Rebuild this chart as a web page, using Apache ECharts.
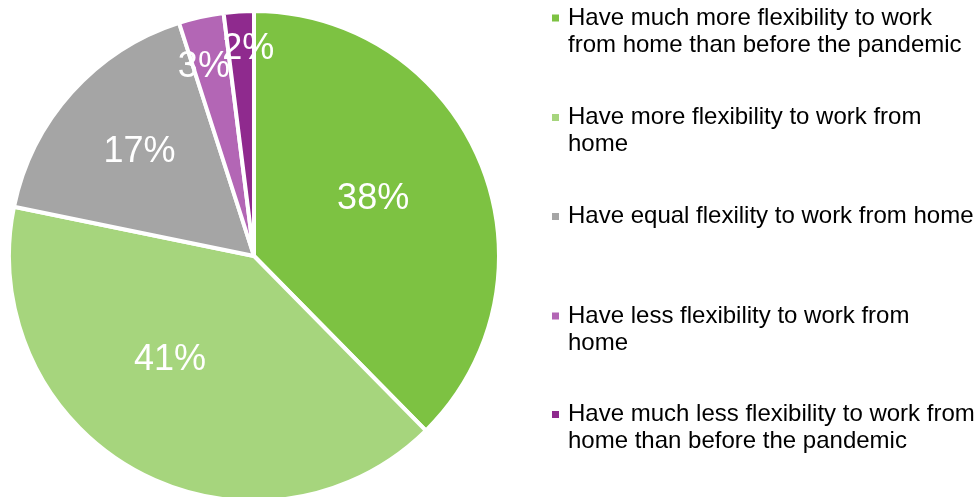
<!DOCTYPE html>
<html>
<head>
<meta charset="utf-8">
<script src="https://cdn.jsdelivr.net/npm/echarts@6/dist/echarts.min.js"></script>
<style>
  html, body { margin: 0; padding: 0; background: #ffffff; }
  #chart { width: 977px; height: 497px; }
</style>
</head>
<body>
<div id="chart"></div>
<script>
// Survey answers: flexibility to work from home compared with before the pandemic
const categories = [
  'Have much more flexibility to work\nfrom home than before the pandemic',
  'Have more flexibility to work from\nhome',
  'Have equal flexility to work from home',
  'Have less flexibility to work from\nhome',
  'Have much less flexibility to work from\nhome than before the pandemic'
];
const shares = [38, 41, 17, 3, 2];

// Styling
const sliceColors = ['#7DC242', '#A6D57D', '#A5A5A5', '#B366B5', '#8F2A8E'];
const labelShift = [[3, -9], [-24, -6], [-21, -20], [-23, -66], [2, -82]];
const legendRowTop = [4.5, 104, 189.5, 302.5, 401];
const FONT = '"Liberation Sans", Arial, sans-serif';

// Legend markers: a 7px square inside a 7x54 box (thin anchors at top and bottom
// keep the box size), so the square lines up with the first text line.
const ICON_TWO_LINES = 'path://M0,0h7v0.01h-7zM0,10h7v7h-7zM0,53.99h7v0.01h-7z';
const ICON_ONE_LINE = 'path://M0,0h7v0.01h-7zM0,23.5h7v7h-7zM0,53.99h7v0.01h-7z';

const chart = echarts.init(document.getElementById('chart'), null, { renderer: 'canvas' });

// one legend block per answer, so the rows are evenly spaced
const legends = categories.map(function (name, i) {
  return {
    orient: 'vertical',
    left: 552,
    top: legendRowTop[i],
    padding: 0,
    itemWidth: 7,
    itemHeight: 54,
    selectedMode: false,
    itemStyle: { borderWidth: 0 },
    textStyle: {
      fontFamily: FONT,
      fontSize: 24,
      lineHeight: 27,
      color: '#000000',
      padding: [0, 0, 0, 4]
    },
    data: [{
      name: name,
      icon: name.indexOf('\n') >= 0 ? ICON_TWO_LINES : ICON_ONE_LINE
    }]
  };
});

chart.setOption({
  animation: false,
  backgroundColor: '#ffffff',
  color: sliceColors,
  legend: legends,
  series: [{
    type: 'pie',
    center: [254, 256],
    radius: 245,
    startAngle: 90,
    clockwise: true,
    avoidLabelOverlap: false,
    itemStyle: { borderColor: '#ffffff', borderWidth: 4 },
    label: {
      show: true,
      position: 'inside',
      formatter: '{c}%',
      fontFamily: FONT,
      fontSize: 36,
      color: '#ffffff'
    },
    labelLine: { show: false },
    labelLayout: function (p) {
      return { dx: labelShift[p.dataIndex][0], dy: labelShift[p.dataIndex][1] };
    },
    emphasis: { disabled: true },
    data: categories.map(function (name, i) {
      return { name: name, value: shares[i] };
    })
  }]
});
</script>
</body>
</html>
